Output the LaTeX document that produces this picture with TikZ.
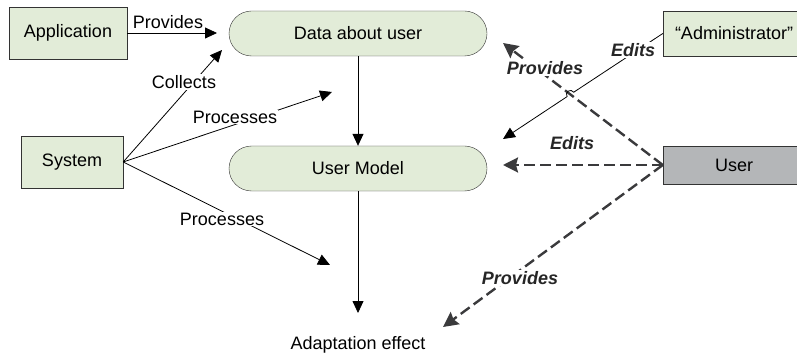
\documentclass[tikz,border=0pt]{standalone}
\usepackage{fontspec}
\setmainfont{Liberation Sans}
\usetikzlibrary{positioning, arrows.meta, calc}
\definecolor{hellgruen}{RGB}{226,236,216}
\definecolor{graunutzer}{RGB}{180,182,184}
\definecolor{dunkel}{RGB}{58,58,60}

\tikzset{
    kasten/.style={draw=black!80, fill=hellgruen, minimum height=45pt, inner sep=0pt},
    pille/.style={kasten, rounded corners=22.5pt, minimum width=258pt},
    pfeil/.style={-{Triangle[length=12pt,width=11pt]}, line width=0.8pt},
    strich/.style={-{Stealth[length=15pt,width=15pt,inset=2pt]}, draw=dunkel, line width=2.4pt, dash pattern=on 11pt off 5pt},
    beschr/.style={fill=white, inner sep=1pt},
    fett/.style={beschr, font=\fontsize{18}{21}\selectfont\bfseries\itshape, text=black!85}
}

\begin{document}
\begin{tikzpicture}[x=1pt, y=-1pt, font=\fontsize{18}{21}\selectfont]
            \useasboundingbox (0,0) rectangle (797,358);

            % Kaesten
            \node[kasten, minimum width=118pt, minimum height=52pt] (app) at (68,33) {Application};
            \node[kasten, minimum width=102pt, minimum height=52pt] (sys) at (72,162) {System};
            \node[pille] (daten) at (358,33.5) {Data about user};
            \node[pille] (modell) at (358,168.5) {User Model};
            \node[kasten, minimum width=142pt] (admin) at (734,33.5) {“Administrator”};
            \node[kasten, fill=graunutzer, minimum width=142pt, minimum height=38pt] (nutzer) at (734,165) {User};
            \node (effekt) at (358,345) {Adaptation effect};

            % Pfeilenden
            \coordinate (zApp) at (217,33);
            \coordinate (zSammeln) at (222,50);
            \coordinate (zProz1) at (332,92);
            \coordinate (zProz2) at (330,265);
            \coordinate (zEffekt) at (358,313);
            \coordinate (zAdmin) at (503,139);
            \coordinate (zLief1) at (503,43);
            \coordinate (zBearb) at (503,165);
            \coordinate (zLief2) at (443,327);
            \coordinate (kreuz) at (570.4,94.4);

            % Durchgezogene Pfeile
            \draw[pfeil] (app.east) -- (zApp);
            \foreach \ziel in {zSammeln, zProz1, zProz2} {
                \draw[pfeil] (sys.east) -- (\ziel);
            }
            \draw[pfeil] (daten.south) -- (modell.north);
            \draw[pfeil] (modell.south) -- (zEffekt);

            % Gestrichelte Pfeile (User)
            \foreach \ziel in {zLief1, zBearb, zLief2} {
                \draw[strich] (nutzer.west) -- (\ziel);
            }

            % Administrator, mit Bruecke ueber die Strichlinie
            \draw[pfeil] (admin.west) -- ($(kreuz)!4pt!(admin.west)$)
                arc[start angle=33.6, end angle=213.6, radius=4pt] -- (zAdmin);

            % Beschriftungen
            \node (lLiefert) at (168,22) {Provides};
            \node[beschr] (lSammelt) at (184,82) {Collects};
            \node[beschr] (lProz1) at (235,117) {Processes};
            \node[beschr] (lProz2) at (222,219) {Processes};
            \node[fett] (lAdmin) at (633,50) {Edits};
            \node[fett] (lLief1) at (545,68) {Provides};
            \node[fett] (lBearb) at (572,143) {Edits};
            \node[fett] (lLief2) at (520,278) {Provides};
\end{tikzpicture}
\end{document}
